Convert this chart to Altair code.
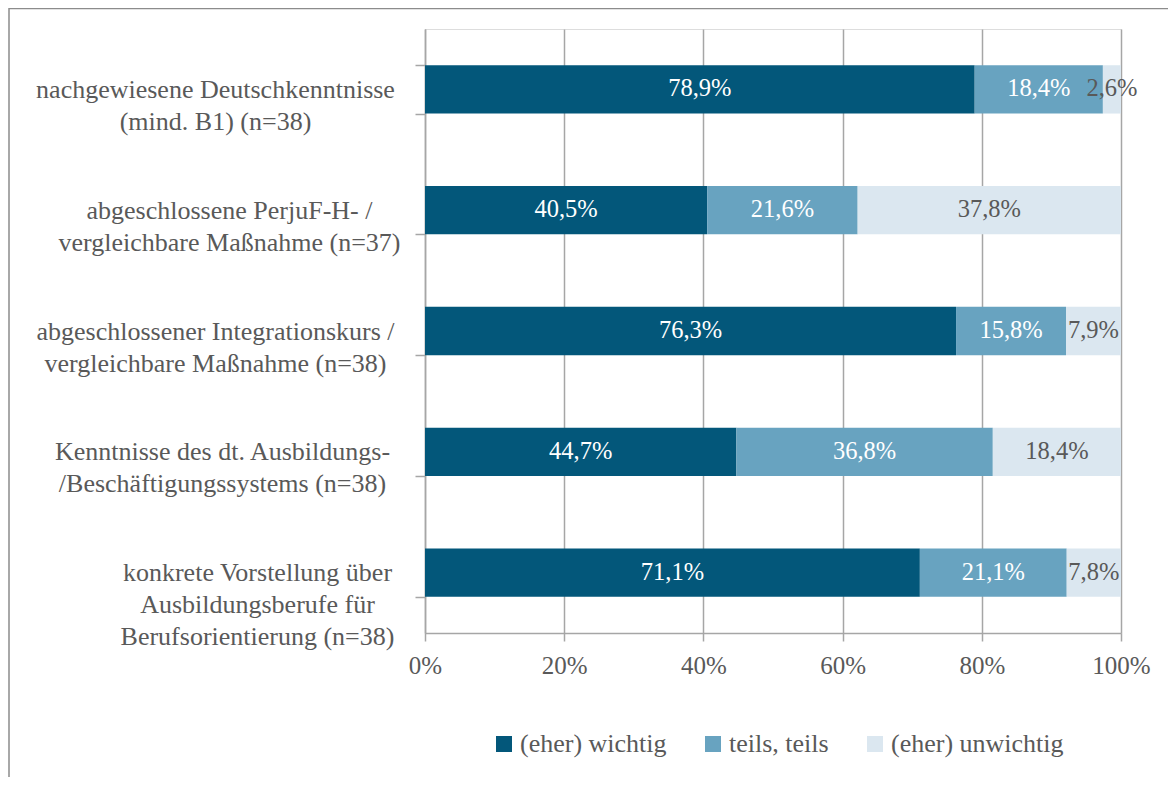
import altair as alt
import pandas as pd

categories = [
    "nachgewiesene Deutschkenntnisse|(mind. B1) (n=38)",
    "abgeschlossene PerjuF-H- /|vergleichbare Maßnahme (n=37)",
    "abgeschlossener Integrationskurs /|vergleichbare Maßnahme (n=38)",
    "Kenntnisse des dt. Ausbildungs-|/Beschäftigungssystems (n=38)",
    "konkrete Vorstellung über|Ausbildungsberufe für|Berufsorientierung  (n=38)",
]
series = ["(eher) wichtig", "teils, teils", "(eher) unwichtig"]
wichtig = [78.9, 40.5, 76.3, 44.7, 71.1]
teils = [18.4, 21.6, 15.8, 36.8, 21.1]
unwichtig = [2.6, 37.8, 7.9, 18.4, 7.8]
colors = ["#03577A", "#68A3C0", "#DBE7F0"]
x_ticks = [0, 0.2, 0.4, 0.6, 0.8, 1.0]

rows = []
for i, cat in enumerate(categories):
    for j, (s, vals) in enumerate(zip(series, [wichtig, teils, unwichtig])):
        rows.append({"cat": cat, "series": s, "order": j, "value": vals[i]})
df = pd.DataFrame(rows)

FONT = "'Liberation Serif', 'Times New Roman', 'DejaVu Serif', serif"
GRAY_TXT = "#595959"
GRAY_LINE = "#A6A6A6"

# per-label padding so each centred label block sits right next to the axis
label_pads = [200, 186, 200, 193, 158]
pad_conditions = [
    {"test": f"datum.value == '{c}'", "value": p}
    for c, p in zip(categories[1:], label_pads[1:])
]

base = alt.Chart(df).transform_stack(
    stack="value", groupby=["cat"], as_=["x0", "x1"], offset="normalize",
    sort=[alt.SortField("order", order="ascending")],
).transform_calculate(
    mid="(datum.x0 + datum.x1) / 2",
    label="replace(format(datum.value, '.1f'), '.', ',') + '%'",
)

y_enc = alt.Y(
    "cat:N", sort=categories,
    scale=alt.Scale(paddingInner=0.6, paddingOuter=0.3),
    axis=alt.Axis(
        title=None, labelExpr="split(datum.label, '|')", labelAlign="center",
        labelBaseline="middle",
        labelPadding={"condition": pad_conditions, "value": label_pads[0]},
        labelLimit=1000,
        labelFontSize=26, labelLineHeight=32, labelColor=GRAY_TXT, labelFont=FONT,
        tickBand="extent", tickSize=10, tickColor=GRAY_LINE, tickWidth=1.5,
        domainColor=GRAY_LINE, domainWidth=1.5, grid=False,
    ),
)

bars = base.mark_bar().encode(
    x=alt.X(
        "x0:Q", scale=alt.Scale(domain=[0, 1], nice=False),
        axis=alt.Axis(
            values=x_ticks, format=".0%", title=None, grid=True, labelFlush=False,
            gridColor=GRAY_LINE, gridWidth=1.5, tickSize=8, tickColor=GRAY_LINE,
            tickWidth=1.5, domainColor=GRAY_LINE, domainWidth=1.5,
            labelFontSize=25, labelColor=GRAY_TXT, labelFont=FONT, labelPadding=12,
        ),
    ),
    x2="x1:Q",
    y=y_enc,
    color=alt.Color(
        "series:N", scale=alt.Scale(domain=series, range=colors),
        legend=alt.Legend(
            orient="none", legendX=66, legendY=702, direction="horizontal",
            title=None, symbolType="square", symbolSize=256, symbolStrokeWidth=0,
            labelFontSize=26, labelColor=GRAY_TXT, labelFont=FONT,
            columnPadding=33, labelOffset=3, labelLimit=400,
        ),
    ),
)

texts = base.mark_text(font=FONT, fontSize=24.5, align="center", baseline="middle").encode(
    x=alt.X("mid:Q"),
    y=alt.Y("cat:N", sort=categories),
    text="label:N",
    color=alt.condition(
        alt.datum.series == "(eher) unwichtig", alt.value(GRAY_TXT), alt.value("white")
    ),
)

frame = alt.Chart(pd.DataFrame({"a": [0]})).mark_rect(
    filled=False, stroke="#8C8C8C", strokeWidth=1.5
).encode(
    x=alt.value(-416), x2=alt.value(800), y=alt.value(-20.5), y2=alt.value(900)
)

chart = alt.layer(frame, bars, texts).properties(
    width=696, height=604,
    autosize=alt.AutoSizeParams(type="none"),
    padding={"left": 417, "top": 21, "right": 47, "bottom": 144},
).configure_view(stroke=None).configure(font=FONT)

chart.save("out.html", embed_options={"renderer": "svg", "actions": False})
